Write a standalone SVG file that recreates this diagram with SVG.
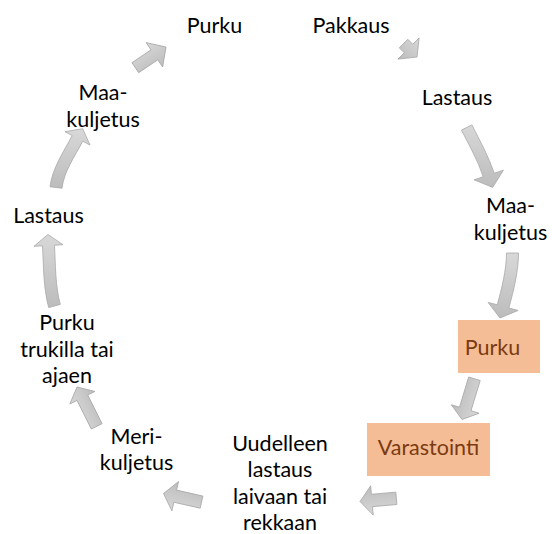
<svg xmlns="http://www.w3.org/2000/svg" width="552" height="534" viewBox="0 0 552 534">
<defs>
<linearGradient id="g" x1="0" y1="0" x2="0" y2="1">
<stop offset="0" stop-color="#d8d8d8"/>
<stop offset="1" stop-color="#bcbcbc"/>
</linearGradient>
<style>
.lbl{font-family:Lato,"Liberation Sans",sans-serif;font-size:21.5px;fill:#000;text-anchor:middle}
.box{fill:#F5BD95}
.btx{fill:#7A3A12}
.arr{fill:url(#g);stroke:#a8a8a8;stroke-width:0.8;stroke-linejoin:miter}
</style>
</defs>
<rect width="552" height="534" fill="#fff"/>
<g id="connectors">
<polygon class="arr" transform="translate(417,57) rotate(45)" points="0,0 -12,-15 -12,-6 -19,-6 -19,6 -12,6 -12,15"/>
<path class="arr" d="M461.5,130.1 C469.2,145.5 477.9,160.5 483.2,176.8 L474,179.8 L492.7,187.4 L503.4,170.2 L494.2,173.2 C488.7,156.4 479.8,140.7 471.9,124.9 Z"/>
<path class="arr" d="M506.5,253 C506.5,270 501.6,288.8 497.3,304.8 L488.1,302.4 L500,318 L518.1,310.4 L508.9,308 C513.5,291 518.5,271 518.5,253 Z"/>
<polygon class="arr" transform="translate(462,419.5) rotate(107)" points="0,0 -11,-14.5 -11,-6 -42.6,-6 -42.6,6 -11,6 -11,14.5"/>
<polygon class="arr" transform="translate(360,501.5) rotate(175)" points="0,0 -12,-14.7 -12,-6.2 -36.5,-6.2 -36.5,6.2 -12,6.2 -12,14.7"/>
<polygon class="arr" transform="translate(163.5,493.5) rotate(192.8)" points="0,0 -12,-15 -12,-6.2 -39,-6.2 -39,6.2 -12,6.2 -12,15"/>
<polygon class="arr" transform="translate(77,387) rotate(243.4)" points="0,0 -12,-14 -12,-6 -44,-6 -44,6 -12,6 -12,14"/>
<path class="arr" d="M60.3,304.4 C55.2,285.3 55.5,265 54.5,245.2 L63,244.7 L47.9,234.5 L34,246.3 L42.5,245.8 C43.6,266.5 43.3,287.6 48.7,307.6 Z"/>
<path class="arr" d="M62,188.2 C64.1,171.2 74.8,156.3 82.8,141.2 L90,145.1 L82.7,128.7 L65,131.7 L72.2,135.6 C63.5,152 52.3,168.3 50,186.8 Z"/>
<polygon class="arr" transform="translate(166,47) rotate(-34)" points="0,0 -14,-14.7 -14,-6 -37,-6 -37,6 -14,6 -14,14.7"/>
</g>
<g id="n1"><text class="lbl" x="214.5" y="33">Purku</text></g>
<g id="n2"><text class="lbl" x="351" y="33">Pakkaus</text></g>
<g id="n3"><text class="lbl" x="457" y="105">Lastaus</text></g>
<g id="n4"><text class="lbl" x="510.5" y="213">Maa-</text><text class="lbl" x="510.5" y="240">kuljetus</text></g>
<g id="n5"><rect class="box" x="458" y="320" width="82" height="53"/><text class="lbl btx" x="492.5" y="355">Purku</text></g>
<g id="n6"><rect class="box" x="367" y="423" width="123" height="53"/><text class="lbl btx" x="428.5" y="455">Varastointi</text></g>
<g id="n7"><text class="lbl" x="280" y="451">Uudelleen</text><text class="lbl" x="280" y="477">lastaus</text><text class="lbl" x="280" y="503.5">laivaan tai</text><text class="lbl" x="280" y="529.5">rekkaan</text></g>
<g id="n8"><text class="lbl" x="136.5" y="443.5">Meri-</text><text class="lbl" x="136.5" y="469.5">kuljetus</text></g>
<g id="n9"><text class="lbl" x="67" y="330">Purku</text><text class="lbl" x="67" y="356.5">trukilla tai</text><text class="lbl" x="67" y="383">ajaen</text></g>
<g id="n10"><text class="lbl" x="48.5" y="223">Lastaus</text></g>
<g id="n11"><text class="lbl" x="103" y="100">Maa-</text><text class="lbl" x="103" y="126.5">kuljetus</text></g>
</svg>
